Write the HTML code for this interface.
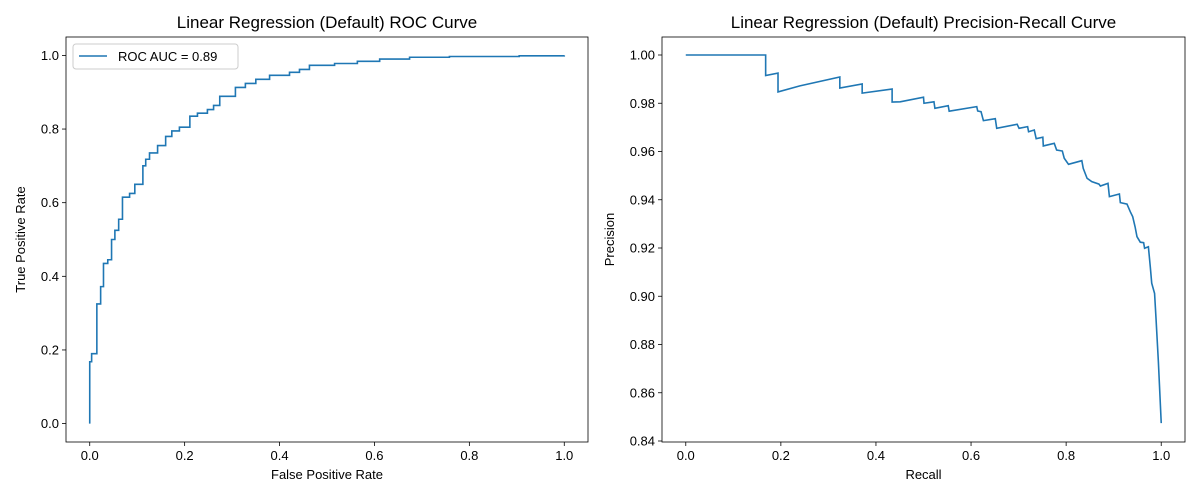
<!DOCTYPE html>
<html><head><meta charset="utf-8"><style>
body{margin:0;background:#fff;}
svg{display:block;font-family:"Liberation Sans","DejaVu Sans",sans-serif;}
</style></head><body>
<svg id="chart" width="1200" height="500"></svg>
<script>
const rocFpr=[0,0,.004,.015,.023,.029,.038,.046,.053,.061,.069,.084,.095,.112,.118,.126,.143,.160,.173,.189,.211,.227,.248,.261,.274,.307,.328,.350,.379,.421,.442,.463,.516,.564,.611,.674,.758,.905,1.0];
const rocTpr=[0,.168,.19,.325,.372,.435,.445,.5,.525,.555,.615,.625,.65,.70,.718,.735,.755,.78,.795,.805,.835,.843,.853,.864,.889,.913,.924,.935,.946,.954,.962,.973,.978,.984,.99,.995,.997,.999,1.0];
const prRecall=[0,.168,.168,.194,.194,.240,.324,.324,.371,.371,.434,.434,.451,.500,.501,.522,.524,.552,.554,.612,.614,.621,.626,.651,.654,.697,.701,.719,.721,.733,.737,.751,.752,.775,.780,.792,.796,.805,.833,.836,.844,.854,.869,.872,.888,.891,.912,.914,.928,.935,.940,.945,.949,.956,.963,.965,.973,.977,.980,.986,.989,.994,1.0];
const prPrecision=[1,1,.9915,.9925,.9847,.9872,.9909,.9863,.9880,.9842,.9859,.9805,.9806,.9825,.9800,.9806,.9779,.9790,.9767,.9786,.9768,.9765,.9728,.9736,.9696,.9713,.9696,.9703,.9682,.9689,.9653,.9659,.9623,.9634,.9606,.9602,.9572,.9547,.9562,.9530,.9489,.9475,.9465,.9457,.9468,.9413,.9424,.9388,.9382,.9350,.9330,.9288,.9247,.9224,.9222,.9199,.9205,.9122,.9054,.9012,.8909,.8729,.8474];
const rocXTicks=["0.0","0.2","0.4","0.6","0.8","1.0"];
const rocYTicks=["0.0","0.2","0.4","0.6","0.8","1.0"];
const prXTicks=["0.0","0.2","0.4","0.6","0.8","1.0"];
const prYTicks=["0.84","0.86","0.88","0.90","0.92","0.94","0.96","0.98","1.00"];

const NS="http://www.w3.org/2000/svg";
const svg=document.getElementById('chart');
function mk(tag,attrs,parent){const e=document.createElementNS(NS,tag);for(const k in attrs)e.setAttribute(k,attrs[k]);(parent||svg).appendChild(e);return e;}

function panel(opts){
  const {x0,x1,y0,y1,xmin,xmax,ymin,ymax,name}=opts;
  const g=mk('g',{});
  
  
  const sx=v=>x0+(v-xmin)/(xmax-xmin)*(x1-x0);
  const sy=v=>y1-(v-ymin)/(ymax-ymin)*(y1-y0);
  opts.xTicks.forEach(t=>{const v=parseFloat(t),px=sx(v);
    const l=mk('line',{x1:px,x2:px,y1:y1,y2:y1+4,stroke:'#000','stroke-width':0.8},g);
    
    const tx=mk('text',{x:px,y:y1+18,'text-anchor':'middle','font-size':13},g);tx.textContent=t;
    });
  opts.yTicks.forEach(t=>{const v=parseFloat(t),py=sy(v);
    const l=mk('line',{x1:x0-4,x2:x0,y1:py,y2:py,stroke:'#000','stroke-width':0.8},g);
    
    const tx=mk('text',{x:x0-7,y:py+4.5,'text-anchor':'end','font-size':13},g);tx.textContent=t;
    });
  let d='';
  opts.xs.forEach((v,i)=>{d+=(i?'L':'M')+sx(v).toFixed(2)+','+sy(opts.ys[i]).toFixed(2);});
  const p=mk('path',{d:d,fill:'none',stroke:'#1f77b4','stroke-width':1.6,'stroke-linejoin':'miter'},g);
  
  const fr=mk('rect',{x:x0,y:y0,width:x1-x0,height:y1-y0,fill:'none',stroke:'#000','stroke-width':0.8},g);
  
  const ti=mk('text',{x:(x0+x1)/2,y:y0-9,'text-anchor':'middle','font-size':17},g);ti.textContent=opts.title;
  
  const xl=mk('text',{x:(x0+x1)/2,y:y1+37,'text-anchor':'middle','font-size':13},g);xl.textContent=opts.xlabel;
  
  const yx=opts.ylabelX,yy=(y0+y1)/2;
  const yl=mk('text',{x:yx,y:yy,'text-anchor':'middle','font-size':13,transform:'rotate(-90 '+yx+' '+yy+')'},g);yl.textContent=opts.ylabel;
  
  return g;
}

panel({x0:66,x1:588,y0:37,y1:442,xmin:-0.05,xmax:1.05,ymin:-0.05,ymax:1.05,name:'roc',
  xTicks:rocXTicks,yTicks:rocYTicks,xs:rocFpr.flatMap((v,i)=>i?[v,v]:[v]),ys:rocTpr.flatMap((v,i)=>i?[rocTpr[i-1],v]:[v]),
  title:'Linear Regression (Default) ROC Curve',xlabel:'False Positive Rate',ylabel:'True Positive Rate',ylabelX:25});
panel({x0:662,x1:1185,y0:37,y1:442,xmin:-0.05,xmax:1.05,ymin:0.84-1/2412.5,ymax:1+18/2412.5,name:'pr',
  xTicks:prXTicks,yTicks:prYTicks,xs:prRecall,ys:prPrecision,
  title:'Linear Regression (Default) Precision-Recall Curve',xlabel:'Recall',ylabel:'Precision',ylabelX:614});

const lg=mk('g',{});


mk('rect',{x:73,y:44,width:165,height:25,rx:3,fill:'#fff',stroke:'#ccc','stroke-width':1},lg);
const ll=mk('line',{x1:79,x2:107,y1:56,y2:56,stroke:'#1f77b4','stroke-width':1.6},lg);

const lt=mk('text',{x:118,y:61,'font-size':13},lg);lt.textContent='ROC AUC = 0.89';

</script>
</body></html>
